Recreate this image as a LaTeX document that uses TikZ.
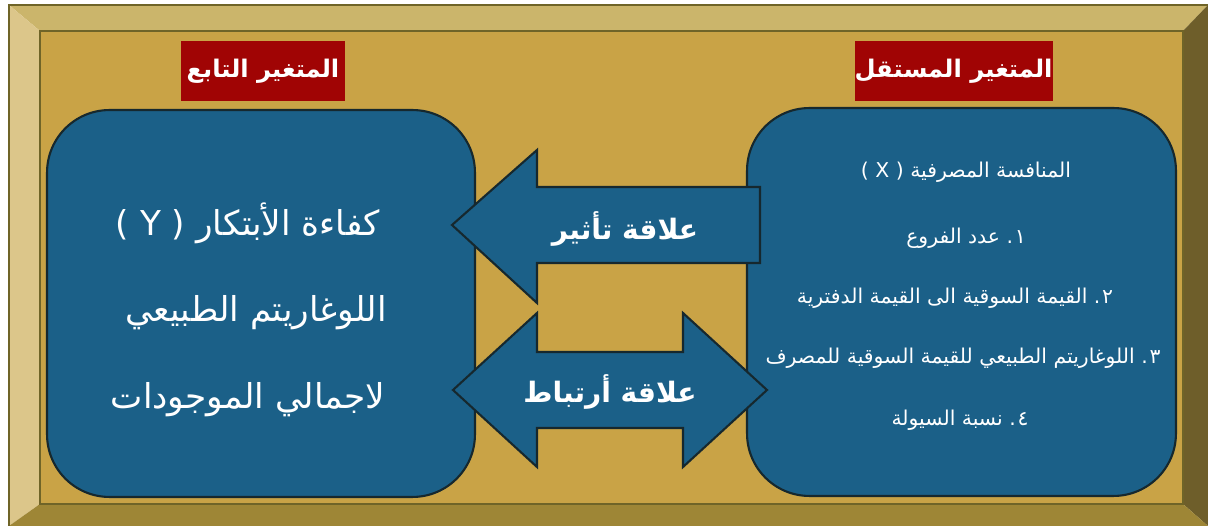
\documentclass[tikz,border=0pt]{standalone}
\usepackage{fontspec}
\newfontfamily\arabicfont[Script=Arabic]{DejaVu Sans}
\newfontfamily\latinfont{DejaVu Sans}
\TeXXeTstate=1

\definecolor{frametop}{HTML}{CBB56B}
\definecolor{frameleft}{HTML}{DCC68A}
\definecolor{frameright}{HTML}{6E5E2A}
\definecolor{framebottom}{HTML}{9E8636}
\definecolor{frameface}{HTML}{C9A346}
\definecolor{frameline}{HTML}{6F6428}
\definecolor{panelblue}{HTML}{1B6088}
\definecolor{paneledge}{HTML}{16282E}
\definecolor{titlered}{HTML}{A00404}

\begin{document}
\begin{tikzpicture}[x=0.02cm,y=-0.02cm,
  panel/.style={draw=paneledge, line width=1.2pt, fill=panelblue, rounded corners=1.25cm},
  titlebox/.style={fill=titlered, text=white, inner sep=0pt, minimum height=1.2cm,
    font=\arabicfont\bfseries\fontsize{13.8}{16}\selectfont},
  bigtxt/.style={text=white, font=\arabicfont\fontsize{19.5}{24}\selectfont},
  smalltxt/.style={text=white, font=\arabicfont\fontsize{11.6}{14}\selectfont},
  arrowtxt/.style={text=white, font=\arabicfont\bfseries\fontsize{16}{19}\selectfont},
  blockarrow/.style={draw=paneledge, line width=1.2pt, fill=panelblue, line join=miter}]
  \useasboundingbox (0,0) rectangle (1208,526);

  % Draw the bevelled frame
  \fill[frametop] (9,5) -- (1208,5) -- (1183,31) -- (40,31) -- cycle;
  \fill[frameleft] (9,5) -- (40,31) -- (40,504) -- (9,526) -- cycle;
  \fill[frameright] (1208,5) -- (1183,31) -- (1183,504) -- (1208,526) -- cycle;
  \fill[framebottom] (9,526) -- (40,504) -- (1183,504) -- (1208,526) -- cycle;
  \filldraw[fill=frameface, draw=frameline, line width=0.6pt] (40,31) rectangle (1183,504);
  \draw[frameline, line width=0.6pt] (9,526) -- (9,5) -- (1208,5);

  % Draw the titles
  \node[titlebox, minimum width=3.28cm] (deptitle) at (263,71)
    {\beginR المتغير التابع\endR};
  \node[titlebox, minimum width=3.94cm] (indtitle) at (953.5,71)
    {\beginR المتغير المستقل\endR};

  % Draw the two panels
  \node[panel, minimum width=8.56cm, minimum height=7.74cm] (dep) at (261,303.5) {};
  \node[panel, minimum width=8.58cm, minimum height=7.76cm] (ind) at (961.5,302) {};

  % Draw the dependent variable
  \node[bigtxt] (depa) at (248,223)
    {\beginR كفاءة الأبتكار \beginL{\latinfont( Y )}\endL\endR};
  \node[bigtxt] (depb) at (256,313) {\beginR اللوغاريتم الطبيعي\endR};
  \node[bigtxt] (depc) at (248,400) {\beginR لاجمالي الموجودات\endR};

  % Draw the independent variable
  \node[smalltxt] (inda) at (966,172)
    {\beginR المنافسة المصرفية \beginL{\latinfont( X )}\endL\endR};
  \node[smalltxt] (indb) at (966,238) {\beginR ١\kern1pt.\ عدد الفروع\endR};
  \node[smalltxt] (indc) at (955,298) {\beginR ٢\kern1pt.\ القيمة السوقية الى القيمة الدفترية\endR};
  \node[smalltxt] (indd) at (963,358) {\beginR ٣\kern1pt.\ اللوغاريتم الطبيعي للقيمة السوقية للمصرف\endR};
  \node[smalltxt] (inde) at (960,420) {\beginR ٤\kern1pt.\ نسبة السيولة\endR};

  % Draw the arrows
  \draw[blockarrow] (452,225) -- (537,150) -- (537,187) -- (760,187) -- (760,263)
    -- (537,263) -- (537,303) -- cycle;
  \draw[blockarrow] (453,390) -- (537,313) -- (537,352) -- (683,352) -- (683,313)
    -- (767,390) -- (683,467) -- (683,428) -- (537,428) -- (537,467) -- cycle;
  \node[arrowtxt] (effect) at (625,229) {\beginR علاقة تأثير\endR};
  \node[arrowtxt] (link) at (610,392) {\beginR علاقة أرتباط\endR};
\end{tikzpicture}
\end{document}
